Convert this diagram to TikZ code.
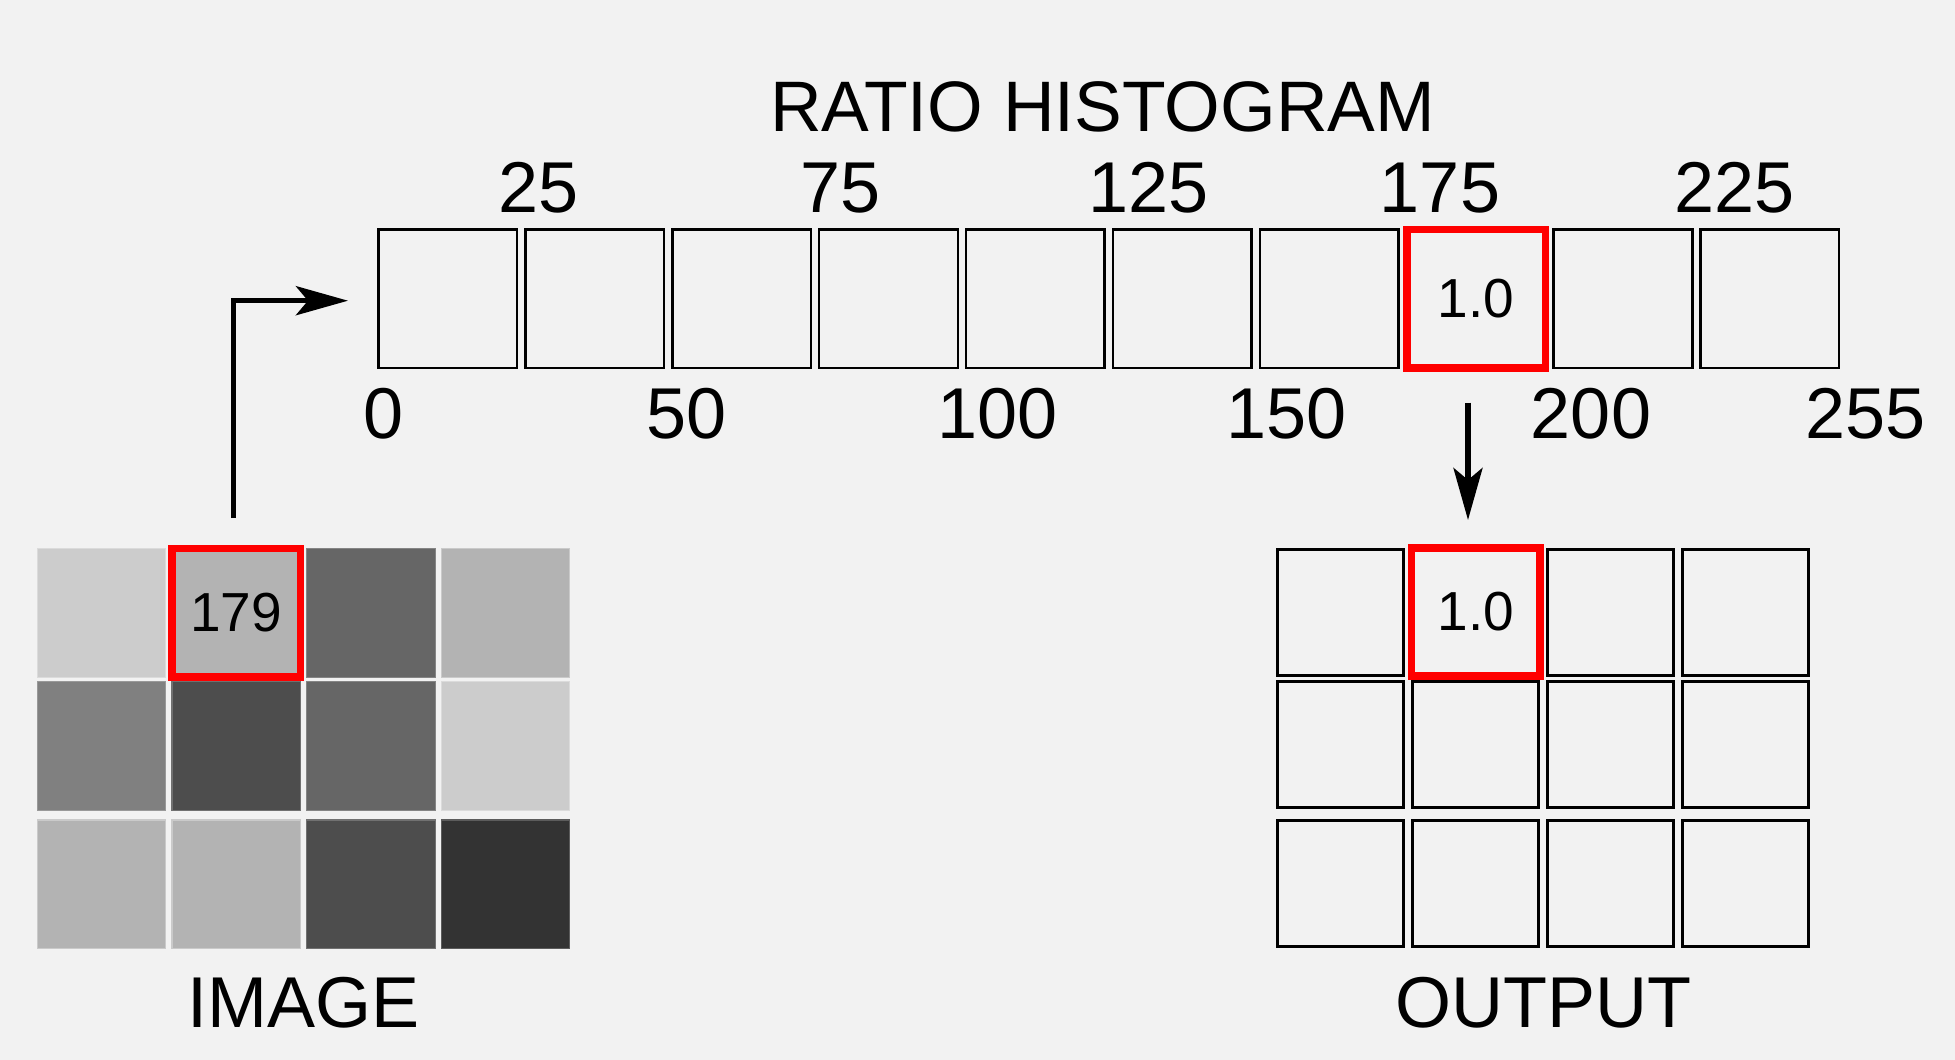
\documentclass[tikz,border=0pt]{standalone}
\usepackage{fontspec}
\setmainfont{Liberation Sans}
\usetikzlibrary{arrows.meta}
\definecolor{bg}{HTML}{F2F2F2}
\definecolor{ga}{HTML}{CCCCCC}
\definecolor{gb}{HTML}{B3B3B3}
\definecolor{gc}{HTML}{808080}
\definecolor{gd}{HTML}{666666}
\definecolor{ge}{HTML}{4D4D4D}
\definecolor{gf}{HTML}{333333}
\definecolor{hired}{HTML}{FF0000}
\tikzset{
  bigtxt/.style={inner sep=0pt, anchor=base, font=\fontsize{72}{86}\selectfont},
  titletxt/.style={inner sep=0pt, anchor=base, font=\fontsize{71.5}{86}\selectfont},
  smalltxt/.style={inner sep=0pt, font=\fontsize{55}{66}\selectfont},
  histbox/.style={rectangle, draw=black, line width=2.5pt, minimum width=138.6pt, minimum height=138.5pt, inner sep=0pt, outer sep=0pt, anchor=north west},
  histred/.style={histbox, draw=hired, line width=7.5pt},
  imgcell/.style={rectangle, line width=1.2pt, minimum width=128.5pt, minimum height=128.5pt, inner sep=0pt, outer sep=0pt, anchor=north west},
  outcell/.style={rectangle, draw=black, line width=3pt, minimum width=126.5pt, minimum height=126.2pt, inner sep=0pt, outer sep=0pt, anchor=north west},
  redframe/.style={draw=hired, line width=7.5pt},
  arrowline/.style={draw=black, line width=5.5pt, -{Stealth[length=52pt, width=29pt, inset=12pt]}},
}
\begin{document}
\begin{tikzpicture}[x=1pt,y=-1pt]
\useasboundingbox (0,0) rectangle (1955,1060);
\fill[bg] (0,0) rectangle (1955,1060);

% title
\node[titletxt] (title) at (1102.5,131.5) {RATIO HISTOGRAM};

% histogram boxes
\foreach \i in {0,1,2,3,4,5,6,8,9} {
  \node[histbox] (h\i) at ({378.5+146.9*\i},229.5) {};
}
\node[histred] (h7) at ({378.5+146.9*7},229.5) {};
\node[smalltxt] (hval) at (h7.center) {1.0};

% top labels
\node[bigtxt] (t25) at (538.6,212) {25};
\node[bigtxt] (t75) at (840.3,212) {75};
\node[bigtxt] (t125) at (1148.3,212) {125};
\node[bigtxt] (t175) at (1440,212) {175};
\node[bigtxt] (t225) at (1734.3,212) {225};

% bottom labels
\node[bigtxt] (b0) at (384,438.5) {0};
\node[bigtxt] (b50) at (687,438.5) {50};
\node[bigtxt] (b100) at (997.4,438.5) {100};
\node[bigtxt] (b150) at (1286.7,438.5) {150};
\node[bigtxt] (b200) at (1591,438.5) {200};
\node[bigtxt] (b255) at (1865.2,438.5) {255};

% image grid
\node[imgcell, fill=ga, draw=ga!70!white] (i11) at (37.2,548.6) {};
\node[imgcell, fill=gb, draw=gb!70!white] (i12) at (171.9,548.6) {};
\node[imgcell, fill=gd, draw=gd!80!white] (i13) at (306.6,548.6) {};
\node[imgcell, fill=gb, draw=gb!70!white] (i14) at (441.3,548.6) {};
\node[imgcell, fill=gc, draw=gc!80!white] (i21) at (37.2,681.8) {};
\node[imgcell, fill=ge, draw=ge!80!white] (i22) at (171.9,681.8) {};
\node[imgcell, fill=gd, draw=gd!80!white] (i23) at (306.6,681.8) {};
\node[imgcell, fill=ga, draw=ga!70!white] (i24) at (441.3,681.8) {};
\node[imgcell, fill=gb, draw=gb!70!white] (i31) at (37.2,820) {};
\node[imgcell, fill=gb, draw=gb!70!white] (i32) at (171.9,820) {};
\node[imgcell, fill=ge, draw=ge!80!white] (i33) at (306.6,820) {};
\node[imgcell, fill=gf, draw=gf!80!white] (i34) at (441.3,820) {};
\draw[redframe] (i12.north west) rectangle (i12.south east);
\node[smalltxt] (ival) at (i12.center) {179};
\node[bigtxt] (imglabel) at (303.8,1027) {IMAGE};

% output grid
\foreach \r/\y in {1/549,2/681.6,3/820.4} {
  \foreach \c/\x in {1/1277.1,2/1412.2,3/1547.3,4/1682.4} {
    \ifnum\r\c=12\relax\else
      \node[outcell] (o\r\c) at (\x,\y) {};
    \fi
  }
}
\node[outcell, draw=hired, line width=7.5pt, minimum width=128.5pt, minimum height=128pt] (o12) at (1411.5,548) {};
\node[smalltxt] (oval) at (o12.center) {1.0};
\node[bigtxt] (outlabel) at (1543,1027) {OUTPUT};

% arrows
\coordinate (ls) at (233.3,518);
\coordinate (le) at (348,300.7);
\draw[arrowline] (ls) |- (le);
\coordinate (ds) at (1468,402.5);
\coordinate (de) at (1468,520);
\draw[arrowline] (ds) -- (de);
\end{tikzpicture}
\end{document}
